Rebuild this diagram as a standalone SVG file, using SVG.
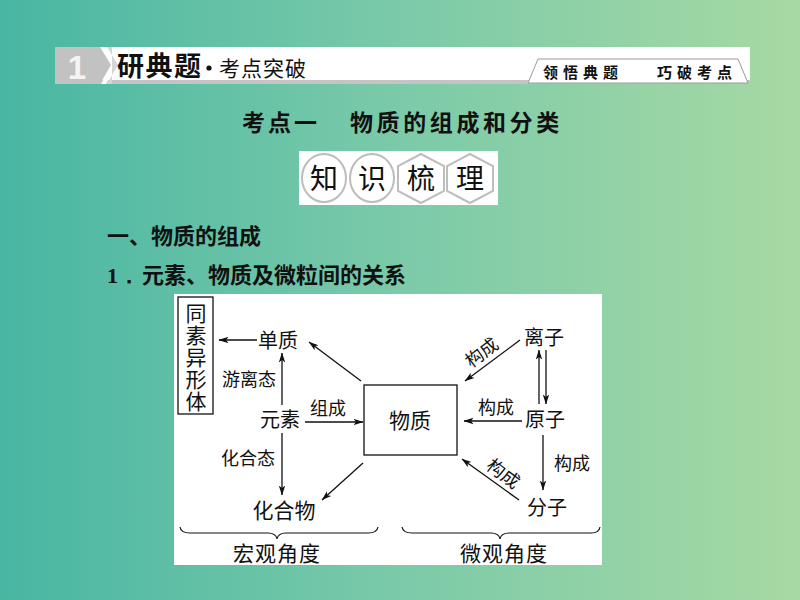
<svg xmlns="http://www.w3.org/2000/svg" width="800" height="600" viewBox="0 0 800 600">
<defs>
<linearGradient id="bg" x1="0" y1="0" x2="1" y2="0">
<stop offset="0" stop-color="#48b6a2"/>
<stop offset="0.5" stop-color="#7bcaa9"/>
<stop offset="1" stop-color="#a7d9a3"/>
</linearGradient>
<marker id="ah" viewBox="0 0 10 8" refX="9.5" refY="4" markerWidth="10" markerHeight="8" markerUnits="userSpaceOnUse" orient="auto">
<path d="M0,0.8 L10,4 L0,7.2 L2.5,4 z" fill="#111"/>
</marker>
<style>
.cjk{font-family:"Liberation Serif","Noto Sans CJK SC",serif;fill:#111}
.sans{font-family:"Liberation Sans","Noto Sans CJK SC",sans-serif;fill:#111}
.lbl{font-size:20px}
.sm{font-size:18px}
.ln{stroke:#111;stroke-width:1.3;fill:none;marker-end:url(#ah)}
.brace{stroke:#111;stroke-width:1.2;fill:none}
.badge{fill:#fff;stroke:#bdbdbd;stroke-width:2}
</style>
</defs>
<rect x="0" y="0" width="800" height="600" fill="url(#bg)"/>

<g id="header">
<rect x="100" y="47" width="650" height="36" fill="#ffffff"/>
<rect x="100" y="80" width="650" height="4" fill="#c4c4c4"/>
<polygon points="55,47 100,47 111,65 100,84 55,84" fill="#c2c2c2"/>
<polygon points="101,47 106,47 117,65 106,84 101,84 112,65" fill="#ffffff"/>
<polygon points="107,47 112,47 112,84 107,84 118,65" fill="#d6d6d6"/>
<text x="77" y="79" text-anchor="middle" font-family="Liberation Sans, sans-serif" font-weight="bold" font-size="33" fill="#f4f4f4">1</text>
<text x="117" y="76" class="sans" font-size="27" font-weight="bold" letter-spacing="1.5">研典题</text>
<circle cx="209" cy="68" r="2.6" fill="#111"/>
<text x="219" y="76" class="sans" font-size="21" letter-spacing="1">考点突破</text>
<polygon points="528,83 538,59 738,59 748,83" fill="#ffffff" stroke="#9a9a9a" stroke-width="1"/>
<text x="543" y="78" class="sans" font-size="15" font-weight="bold" letter-spacing="5">领悟典题</text>
<text x="657" y="78" class="sans" font-size="15" font-weight="bold" letter-spacing="5">巧破考点</text>
</g>

<g id="title">
<text x="242" y="131" class="sans" font-size="23" font-weight="bold" letter-spacing="3">考点一</text>
<text x="350" y="131" class="sans" font-size="23" font-weight="bold" letter-spacing="3.6">物质的组成和分类</text>
</g>

<g id="zhishishuli">
<rect x="299" y="151" width="199" height="54" fill="#ffffff"/>
<ellipse cx="324" cy="178" rx="22" ry="24" class="badge"/>
<ellipse cx="372" cy="178" rx="22" ry="24" class="badge"/>
<polygon points="421,154 444,166 444,191 421,203 398,191 398,166" class="badge"/>
<polygon points="470,154 493,166 493,191 470,203 447,191 447,166" class="badge"/>
<text x="324" y="189" text-anchor="middle" class="sans" font-size="28">知</text>
<text x="372" y="189" text-anchor="middle" class="sans" font-size="28">识</text>
<text x="421" y="189" text-anchor="middle" class="sans" font-size="28">梳</text>
<text x="470" y="189" text-anchor="middle" class="sans" font-size="28">理</text>
</g>

<g id="headings">
<text x="107" y="244" class="sans" font-size="22" font-weight="bold">一、物质的组成</text>
<text x="107" y="283" class="sans" font-size="22" font-weight="bold"><tspan font-family="Liberation Serif, serif">1．</tspan><tspan x="142">元素、物质及微粒间的关系</tspan></text>
</g>

<rect id="diagram-bg" x="174" y="294" width="428" height="271" fill="#ffffff"/>

<g id="connectors">
<line x1="257" y1="340" x2="219" y2="340" class="ln"/>
<line x1="282" y1="405" x2="282" y2="353" class="ln"/>
<line x1="282" y1="433" x2="282" y2="495" class="ln"/>
<line x1="305" y1="422" x2="363" y2="422" class="ln"/>
<line x1="361" y1="381" x2="309" y2="342" class="ln"/>
<line x1="363" y1="463" x2="322" y2="500" class="ln"/>
<line x1="520" y1="340" x2="465" y2="381" class="ln"/>
<line x1="539" y1="404" x2="539" y2="350" class="ln"/>
<line x1="546" y1="350" x2="546" y2="404" class="ln"/>
<line x1="522" y1="421" x2="464" y2="421" class="ln"/>
<line x1="543" y1="435" x2="543" y2="490" class="ln"/>
<line x1="519" y1="500" x2="462" y2="459" class="ln"/>
<text x="249" y="386" text-anchor="middle" class="cjk sm">游离态</text>
<text x="248" y="465" text-anchor="middle" class="cjk sm">化合态</text>
<text x="328" y="415" text-anchor="middle" class="cjk sm">组成</text>
<text x="496" y="414" text-anchor="middle" class="cjk sm">构成</text>
<text x="572" y="470" text-anchor="middle" class="cjk sm">构成</text>
<text x="0" y="6" text-anchor="middle" class="cjk sm" transform="translate(482,353) rotate(-37)">构成</text>
<text x="0" y="6" text-anchor="middle" class="cjk sm" transform="translate(503,474) rotate(37)">构成</text>
</g>

<g id="node-tongsu">
<rect x="178" y="297" width="35" height="117" fill="#ffffff" stroke="#111" stroke-width="1.3"/>
<text class="cjk" font-size="21" text-anchor="middle"><tspan x="196" y="321">同</tspan><tspan x="196" y="343">素</tspan><tspan x="196" y="365">异</tspan><tspan x="196" y="387">形</tspan><tspan x="196" y="409">体</tspan></text>
</g>
<g id="node-danzhi"><text x="278" y="348" text-anchor="middle" class="cjk lbl">单质</text></g>
<g id="node-yuansu"><text x="280" y="427" text-anchor="middle" class="cjk lbl">元素</text></g>
<g id="node-huahewu"><text x="284" y="518" text-anchor="middle" class="cjk" font-size="21">化合物</text></g>
<g id="node-wuzhi">
<rect x="364" y="385" width="93" height="70" fill="#ffffff" stroke="#111" stroke-width="1.3"/>
<text x="410" y="428" text-anchor="middle" class="cjk" font-size="21">物质</text>
</g>
<g id="node-lizi"><text x="544" y="345" text-anchor="middle" class="cjk lbl">离子</text></g>
<g id="node-yuanzi"><text x="545" y="427" text-anchor="middle" class="cjk lbl">原子</text></g>
<g id="node-fenzi"><text x="547" y="515" text-anchor="middle" class="cjk lbl">分子</text></g>

<g id="braces">
<path class="brace" d="M180,527 Q181,533 190,533 L268,533 Q276,533 277,539 Q278,533 286,533 L368,533 Q377,533 378,527"/>
<path class="brace" d="M402,527 Q403,533 412,533 L491,533 Q499,533 500,539 Q501,533 509,533 L591,533 Q599,533 600,527"/>
<text x="277" y="561" text-anchor="middle" class="cjk" font-size="21" letter-spacing="1">宏观角度</text>
<text x="504" y="561" text-anchor="middle" class="cjk" font-size="21" letter-spacing="1">微观角度</text>
</g>
</svg>
